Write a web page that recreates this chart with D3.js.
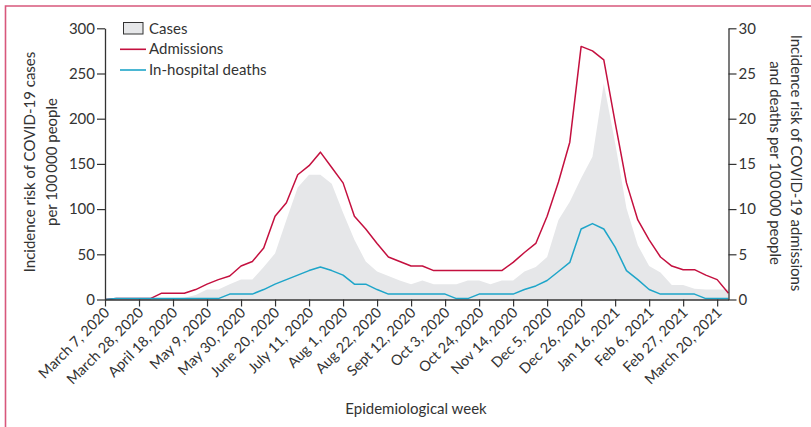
<!DOCTYPE html>
<html>
<head>
<meta charset="utf-8">
<script src="https://cdn.jsdelivr.net/npm/d3@7"></script>
<style>
  html, body { margin: 0; padding: 0; background: #fff; }
  svg text { font-family: Lato, "Open Sans", sans-serif; fill: #333; }
</style>
</head>
<body>
<svg id="chart" width="811" height="427"></svg>
<script>
// ---- data (weekly, from epidemiological week of March 7, 2020) ----
const tickLabels = ["March 7, 2020","March 28, 2020","April 18, 2020","May 9, 2020","May 30, 2020",
  "June 20, 2020","July 11, 2020","Aug 1, 2020","Aug 22, 2020","Sept 12, 2020","Oct 3, 2020",
  "Oct 24, 2020","Nov 14, 2020","Dec 5, 2020","Dec 26, 2020","Jan 16, 2021","Feb 6, 2021",
  "Feb 27, 2021","March 20, 2021"];
const leftTicks = [0, 50, 100, 150, 200, 250, 300];
const rightTicks = [0, 5, 10, 15, 20, 25, 30];

// cases per 100 000 (left axis)
const cases = [0,0.5,0.5,0.5,0.5,0.5,1,2,5,11,11,17,22,22,36,51,88,124,138,138,128,96,66,42,31,26,21,17,21,17,
  17,17,21,21,17,21,21,31,36,47,88,108,134,158,239,173,101,60,37,30,16,16,12,11,11,11];
// admissions per 100 000 (right axis)
const admissions = [0,0.1,0.1,0.1,0.1,0.7,0.7,0.7,1.1,1.7,2.2,2.6,3.7,4.2,5.7,9.2,10.7,13.8,14.8,16.3,14.6,12.9,9.2,7.8,6.2,4.7,
  4.2,3.7,3.7,3.2,3.2,3.2,3.2,3.2,3.2,3.2,4.1,5.2,6.2,9.2,13.0,17.4,28.0,27.5,26.5,19.6,12.9,8.8,6.6,4.7,3.7,3.3,3.3,2.7,2.2,0.7];
// in-hospital deaths per 100 000 (right axis)
const deaths = [0,0.1,0.1,0.1,0.1,0.1,0.1,0.1,0.1,0.1,0.1,0.6,0.6,0.6,1.1,1.7,2.2,2.7,3.2,3.6,3.2,2.7,1.7,1.7,1.1,0.6,
  0.6,0.6,0.6,0.6,0.6,0.1,0.1,0.6,0.6,0.6,0.6,1.1,1.5,2.1,3.1,4.1,7.8,8.4,7.8,5.8,3.2,2.2,1.1,0.6,0.6,0.6,0.6,0.1,0.1,0.1];

const weeks = cases.map((_, i) => i);
const tickWeeks = tickLabels.map((_, i) => i * 3);

// ---- layout ----
const svg = d3.select("#chart");
const X0 = 105, X1 = 728.5, Y0 = 299.5, Y1 = 28.3;
const x = d3.scaleLinear().domain([0, weeks.length - 1]).range([X0, X1]);
const yL = d3.scaleLinear().domain([0, 300]).range([Y0, Y1]);
const yR = d3.scaleLinear().domain([0, 30]).range([Y0, Y1]);

const RED = "#c4103f", CYAN = "#1ea5c9", GREY = "#e6e7e9", INK = "#333";

// frame
svg.append("path")
  .attr("d", "M5.5,427 L5.5,6 L811,6")
  .attr("fill", "none").attr("stroke", "#d8587c").attr("stroke-width", 1.6);

// cases area
svg.append("path")
  .datum(weeks)
  .attr("fill", GREY)
  .attr("d", d3.area().x(i => x(i)).y0(Y0).y1(i => yL(cases[i])));

// admissions and deaths lines
svg.append("path").datum(weeks)
  .attr("fill", "none").attr("stroke", RED).attr("stroke-width", 1.5).attr("stroke-linejoin", "round")
  .attr("d", d3.line().x(i => x(i)).y(i => yR(admissions[i])));
svg.append("path").datum(weeks)
  .attr("fill", "none").attr("stroke", CYAN).attr("stroke-width", 1.5).attr("stroke-linejoin", "round")
  .attr("d", d3.line().x(i => x(i)).y(i => yR(deaths[i])));

function styleAxis(g) {
  g.select(".domain").attr("stroke", INK).attr("stroke-width", 1.3);
  g.selectAll(".tick line").attr("stroke", INK).attr("stroke-width", 1.2);
  g.selectAll(".tick text").attr("fill", INK).style("font-size", "15px")
    .style("font-family", "Lato, 'Open Sans', sans-serif");
}

// left axis
const gL = svg.append("g").attr("transform", `translate(${X0},0)`)
  .call(d3.axisLeft(yL).tickValues(leftTicks).tickSize(8).tickPadding(2).tickSizeOuter(0));
styleAxis(gL);

// right axis
const gR = svg.append("g").attr("transform", `translate(${X1},0)`)
  .call(d3.axisRight(yR).tickValues(rightTicks).tickSize(8).tickPadding(2).tickSizeOuter(0));
styleAxis(gR);

// bottom axis
const gB = svg.append("g").attr("transform", `translate(0,${Y0})`)
  .call(d3.axisBottom(x).tickValues(tickWeeks).tickFormat((d, i) => tickLabels[i])
    .tickSize(7).tickSizeOuter(0));
styleAxis(gB);
gB.selectAll(".tick text")
  .style("font-size", "14.5px")
  .attr("text-anchor", "end")
  .attr("dy", null).attr("y", null)
  .attr("transform", "translate(5,14) rotate(-45)");

// axis titles
const tl = svg.append("text").attr("transform", "translate(35,162) rotate(-90)")
  .attr("text-anchor", "middle").style("font-size", "15px");
tl.append("tspan").attr("x", 0).attr("dy", 0).text("Incidence risk of COVID-19 cases");
tl.append("tspan").attr("x", 0).attr("dy", 21.5).text("per 100\u2009000 people");

const tr = svg.append("text").attr("transform", "translate(791,163) rotate(90)")
  .attr("text-anchor", "middle").style("font-size", "15px");
tr.append("tspan").attr("x", 0).attr("dy", 0).text("Incidence risk of COVID-19 admissions");
tr.append("tspan").attr("x", 0).attr("dy", 21.5).text("and deaths per 100\u2009000 people");

svg.append("text").attr("x", 416).attr("y", 414).attr("text-anchor", "middle")
  .style("font-size", "15px").text("Epidemiological week");

// legend
const lg = svg.append("g");
lg.append("rect").attr("x", 123.5).attr("y", 22.5).attr("width", 19.5).attr("height", 11.5)
  .attr("fill", GREY).attr("stroke", INK).attr("stroke-width", 1);
lg.append("text").attr("x", 149).attr("y", 33.5).style("font-size", "15px").text("Cases");
lg.append("line").attr("x1", 120).attr("x2", 146).attr("y1", 49.3).attr("y2", 49.3)
  .attr("stroke", RED).attr("stroke-width", 1.6);
lg.append("text").attr("x", 149).attr("y", 54.3).style("font-size", "15px").text("Admissions");
lg.append("line").attr("x1", 120).attr("x2", 146).attr("y1", 70).attr("y2", 70)
  .attr("stroke", CYAN).attr("stroke-width", 1.6);
lg.append("text").attr("x", 149).attr("y", 75).style("font-size", "15px").text("In-hospital deaths");
</script>
</body>
</html>
